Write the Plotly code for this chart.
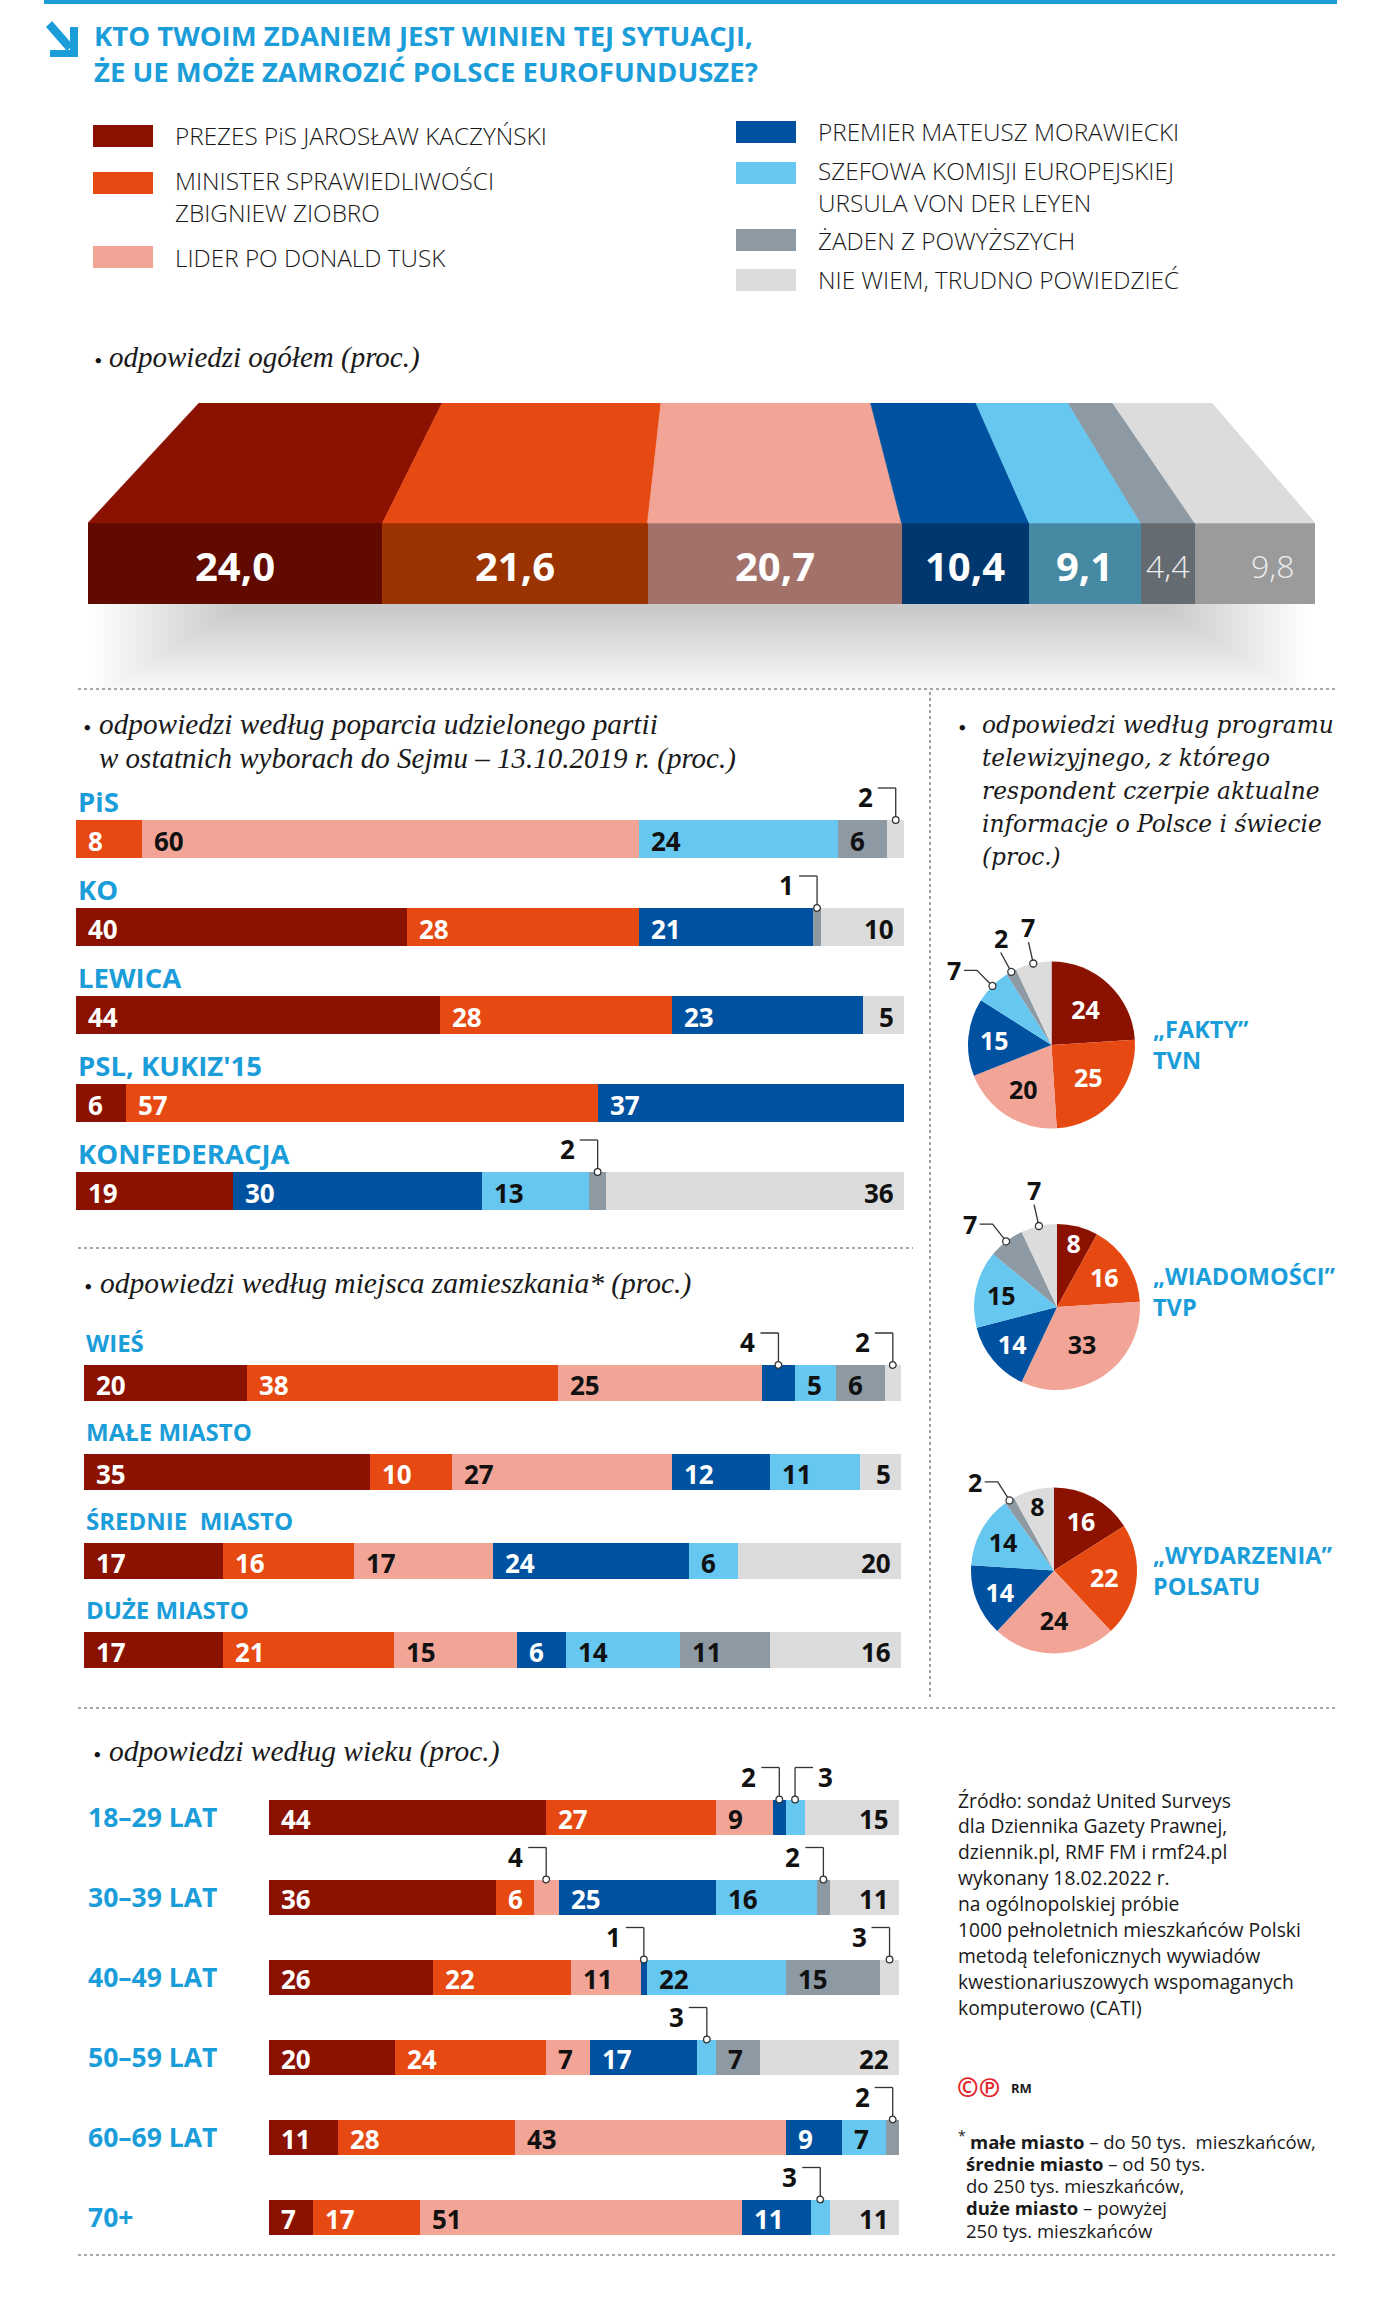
import math
import plotly.graph_objects as go

W, H = 1400, 2308

# ---------------- data ----------------
TITLE_LINES = ["KTO TWOIM ZDANIEM JEST WINIEN TEJ SYTUACJI,",
               "ŻE UE MOŻE ZAMROZIĆ POLSCE EUROFUNDUSZE?"]

SERIES = ["PREZES PiS JAROSŁAW KACZYŃSKI",
          "MINISTER SPRAWIEDLIWOŚCI|ZBIGNIEW ZIOBRO",
          "LIDER PO DONALD TUSK",
          "PREMIER MATEUSZ MORAWIECKI",
          "SZEFOWA KOMISJI EUROPEJSKIEJ|URSULA VON DER LEYEN",
          "ŻADEN Z POWYŻSZYCH",
          "NIE WIEM, TRUDNO POWIEDZIEĆ"]

TOTAL = [24.0, 21.6, 20.7, 10.4, 9.1, 4.4, 9.8]

PARTIES = ["PiS", "KO", "LEWICA", "PSL, KUKIZ'15", "KONFEDERACJA"]
PARTY_KACZYNSKI = [0, 40, 44, 6, 19]
PARTY_ZIOBRO = [8, 28, 28, 57, 0]
PARTY_TUSK = [60, 0, 0, 0, 0]
PARTY_MORAWIECKI = [0, 21, 23, 37, 30]
PARTY_VDL = [24, 0, 0, 0, 13]
PARTY_NONE = [6, 1, 0, 0, 2]
PARTY_DK = [2, 10, 5, 0, 36]

PLACES = ["WIEŚ", "MAŁE MIASTO", "ŚREDNIE  MIASTO", "DUŻE MIASTO"]
PLACE_KACZYNSKI = [20, 35, 17, 17]
PLACE_ZIOBRO = [38, 10, 16, 21]
PLACE_TUSK = [25, 27, 17, 15]
PLACE_MORAWIECKI = [4, 12, 24, 6]
PLACE_VDL = [5, 11, 6, 14]
PLACE_NONE = [6, 0, 0, 11]
PLACE_DK = [2, 5, 20, 16]

AGES = ["18–29 LAT", "30–39 LAT", "40–49 LAT", "50–59 LAT", "60–69 LAT", "70+"]
AGE_KACZYNSKI = [44, 36, 26, 20, 11, 7]
AGE_ZIOBRO = [27, 6, 22, 24, 28, 17]
AGE_TUSK = [9, 4, 11, 7, 43, 51]
AGE_MORAWIECKI = [2, 25, 1, 17, 9, 11]
AGE_VDL = [3, 16, 22, 3, 7, 3]
AGE_NONE = [0, 2, 15, 7, 2, 0]
AGE_DK = [15, 11, 3, 22, 0, 11]

TV_PROGRAMS = ["„FAKTY”|TVN", "„WIADOMOŚCI”|TVP", "„WYDARZENIA”|POLSATU"]
TV_FAKTY = [24, 25, 20, 15, 7, 2, 7]
TV_WIADOMOSCI = [8, 16, 33, 14, 15, 7, 7]
TV_WYDARZENIA = [16, 22, 24, 14, 14, 2, 8]

SOURCE_LINES = ["Źródło: sondaż United Surveys",
                "dla Dziennika Gazety Prawnej,",
                "dziennik.pl, RMF FM i rmf24.pl",
                "wykonany 18.02.2022 r.",
                "na ogólnopolskiej próbie",
                "1000 pełnoletnich mieszkańców Polski",
                "metodą telefonicznych wywiadów",
                "kwestionariuszowych wspomaganych",
                "komputerowo (CATI)"]
FOOTNOTE_LINES = ["<b>małe miasto</b> – do 50 tys.  mieszkańców,",
                  "<b>średnie miasto</b> – od 50 tys.",
                  "do 250 tys. mieszkańców,",
                  "<b>duże miasto</b> – powyżej",
                  "250 tys. mieszkańców"]

# ---------------- style ----------------
COLORS = ["#8b1200", "#e64a12", "#f2a496", "#0052a0", "#66c7f0", "#8d9aa3", "#dcdcdc"]
FRONT_COLORS = ["#600a00", "#9b3300", "#a2726a", "#00376e", "#4689a2", "#646c72", "#9b9b9b"]
ON_COLORS = ["white", "white", "#111111", "white", "#111111", "#111111", "#111111"]
BLUE = "#1b9dd9"
LINE = "#333333"
SANS = "Open Sans, Noto Sans, Lato, DejaVu Sans, sans-serif"
SERIF = "Liberation Serif, DejaVu Serif, serif"
SERIF2 = "DejaVu Serif, Liberation Serif, serif"

fig = go.Figure()
shapes = []
ann = []
layout_axes = {}


def fx(x):
    return x / W


def fy(y):
    return 1 - y / H


def text(x, y, t, size, color="#1a1a1a", family=SANS, weight=None, style=None,
         xanchor="left", yanchor="middle"):
    f = dict(family=family, size=size, color=color)
    if weight is not None:
        f["weight"] = weight
    if style is not None:
        f["style"] = style
    ann.append(dict(x=fx(x), y=fy(y), xref="paper", yref="paper", text=t, showarrow=False,
                    font=f, xanchor=xanchor, yanchor=yanchor, borderpad=0, align="left"))


def rect(x0, y0, x1, y1, color, layer="above", opacity=1.0):
    shapes.append(dict(type="rect", xref="paper", yref="paper", x0=fx(x0), x1=fx(x1),
                       y0=fy(y1), y1=fy(y0), fillcolor=color, line=dict(width=0),
                       layer=layer, opacity=opacity))


def pline(pts, color=LINE, width=1.3):
    path = "M " + " L ".join(f"{fx(x)},{fy(y)}" for x, y in pts)
    shapes.append(dict(type="path", xref="paper", yref="paper", path=path,
                       line=dict(color=color, width=width)))


def dotted(x0, y0, x1, y1):
    shapes.append(dict(type="line", xref="paper", yref="paper", x0=fx(x0), x1=fx(x1),
                       y0=fy(y0), y1=fy(y1), line=dict(color="#8a8a8a", width=1.6, dash="dot")))


def pcircle(x, y, r=3.5):
    shapes.append(dict(type="circle", xref="paper", yref="paper", x0=fx(x - r), x1=fx(x + r),
                       y0=fy(y + r), y1=fy(y - r), fillcolor="white",
                       line=dict(color=LINE, width=1.3)))


def refs(idx):
    return ("x", "y") if idx == 1 else (f"x{idx}", f"y{idx}")


def axes(idx, x0, x1, top, bot, xr, yr):
    k = "" if idx == 1 else str(idx)
    a, b = refs(idx)
    layout_axes[f"xaxis{k}"] = dict(domain=[fx(x0), fx(x1)], range=xr, visible=False,
                                    fixedrange=True, anchor=b)
    layout_axes[f"yaxis{k}"] = dict(domain=[fy(bot), fy(top)], range=yr, visible=False,
                                    fixedrange=True, anchor=a)


# ---------------- header ----------------
rect(44, 0, 1337, 4, BLUE)
shapes.append(dict(type="path", xref="paper", yref="paper",
                   path="M {},{} L {},{} L {},{} L {},{} Z".format(fx(46), fy(27), fx(52), fy(21), fx(73), fy(45), fx(67), fy(51)),
                   fillcolor=BLUE, line=dict(width=0)))
shapes.append(dict(type="path", xref="paper", yref="paper",
                   path="M {},{} L {},{} L {},{} L {},{} L {},{} L {},{} Z".format(
                       fx(70), fy(27), fx(78), fy(27), fx(78), fy(57), fx(50), fy(57), fx(50), fy(50), fx(70), fy(50)),
                   fillcolor=BLUE, line=dict(width=0)))
text(93, 53, "<br>".join(TITLE_LINES), 27.5, BLUE, SANS, weight="bold")

# legend
LEG_X = [93, 93, 93, 736, 736, 736, 736]
LEG_Y = [136, 183, 257, 132, 173, 240, 280]
for s, name in enumerate(SERIES):
    rect(LEG_X[s], LEG_Y[s] - 11, LEG_X[s] + 60, LEG_Y[s] + 11, COLORS[s])
    parts = name.split("|")
    yc = LEG_Y[s] + 13.5 * (len(parts) - 1)
    text(LEG_X[s] + 81, yc, "<br>".join(parts), 24.3, "#1a1a1a", SANS, weight=300)

# ---------------- overall 3D bar ----------------
FRONT_H, TOP_H = 81, 120
TOP_X0, TOP_SCALE = 9.05, 0.8255
axes(1, 88, 1315, 403, 604, [0, 100], [0, FRONT_H + TOP_H])
text(98, 359, "●", 11, "#111111", SANS, xanchor="center")
text(108, 357, "odpowiedzi ogółem (proc.)", 29, "#1a1a1a", SERIF, style="italic")

# soft shadow below the bar
for k in range(18):
    shapes.append(dict(type="rect", xref="paper", yref="paper",
                       x0=fx(95 + k * 8), x1=fx(1305 - k * 8), y0=fy(604 + 92 - k * 5), y1=fy(604),
                       fillcolor="#000000", opacity=0.013, line=dict(width=0), layer="below"))

cum = 0.0
for s, v in enumerate(TOTAL):
    fig.add_trace(go.Bar(x=[v], y=[FRONT_H / 2], width=[FRONT_H], orientation="h",
                         marker=dict(color=FRONT_COLORS[s], line=dict(width=0)),
                         xaxis="x", yaxis="y", hoverinfo="skip", showlegend=False))
    c0, c1 = cum, cum + v
    fig.add_trace(go.Scatter(x=[c0, c1, TOP_X0 + c1 * TOP_SCALE, TOP_X0 + c0 * TOP_SCALE, c0],
                             y=[FRONT_H, FRONT_H, FRONT_H + TOP_H, FRONT_H + TOP_H, FRONT_H],
                             fill="toself", fillcolor=COLORS[s], mode="lines",
                             line=dict(width=0.6, color=COLORS[s]),
                             xaxis="x", yaxis="y", hoverinfo="skip", showlegend=False))
    lbl = f"{v:.1f}".replace(".", ",")
    big = s < 5
    ann.append(dict(x=c0 + v / 2, y=FRONT_H / 2, xref="x", yref="y", text=lbl, showarrow=False,
                    xanchor="center", yanchor="middle", yshift=-2,
                    xshift=(0 if s < 6 else 18),
                    font=dict(family=SANS, size=(40 if big else 32),
                              color=("white" if big else "#eeeeee"),
                              weight=("bold" if big else 300))))
    cum = c1


# ---------------- stacked bar sections ----------------
def callout(xr, yr, X, i, bw, barpx, v, side):
    ya = i - bw / 2
    L, HL = 32, 18
    sgn = -1 if side == "left" else 1
    ln = dict(color=LINE, width=1.3)
    shapes.append(dict(type="line", xref=xr, yref=yr, x0=X, x1=X, ysizemode="pixel",
                       yanchor=ya, y0=0, y1=L, line=ln))
    shapes.append(dict(type="line", xref=xr, yref=yr, xsizemode="pixel", xanchor=X, x0=0,
                       x1=sgn * HL, ysizemode="pixel", yanchor=ya, y0=L, y1=L, line=ln))
    shapes.append(dict(type="circle", xref=xr, yref=yr, xsizemode="pixel", xanchor=X,
                       x0=-3.3, x1=3.3, ysizemode="pixel", yanchor=ya, y0=-3.3, y1=3.3,
                       fillcolor="white", line=ln))
    ann.append(dict(x=X, y=i, xref=xr, yref=yr, text=str(v), showarrow=False,
                    xanchor=("right" if side == "left" else "left"), yanchor="middle",
                    xshift=sgn * (HL + 3), yshift=barpx / 2 + 23,
                    font=dict(family=SANS, size=26, color="#111111", weight="bold")))


def bar_section(idx, cats, series, x0px, x1px, c0, sp, barpx, lab_size, lab_dy=None, lab_x=None):
    n = len(cats)
    axes(idx, x0px, x1px, c0 - sp, c0 + (n - 0.5) * sp, [0, 100], [n - 0.5, -1.0])
    bw = barpx / sp
    xr, yr = refs(idx)
    for s in range(7):
        fig.add_trace(go.Bar(x=series[s], y=list(range(n)), orientation="h", width=bw,
                             marker=dict(color=COLORS[s], line=dict(width=0)),
                             xaxis=xr, yaxis=yr, hoverinfo="skip", showlegend=False))
    for i, cat in enumerate(cats):
        if lab_x is None:
            ann.append(dict(x=0, y=i, xref=xr, yref=yr, text=cat, showarrow=False,
                            xanchor="left", yanchor="middle", yshift=lab_dy,
                            font=dict(family=SANS, size=lab_size, color=BLUE, weight="bold")))
        else:
            ann.append(dict(x=fx(lab_x), y=i, xref="paper", yref=yr, text=cat, showarrow=False,
                            xanchor="left", yanchor="middle",
                            font=dict(family=SANS, size=lab_size, color=BLUE, weight="bold")))
        cum = 0
        prev = False
        for s in range(7):
            v = series[s][i]
            if v == 0:
                continue
            if v <= 4:
                callout(xr, yr, cum + v / 2, i, bw, barpx, v, "right" if prev else "left")
                prev = True
            else:
                if s == 6:
                    ann.append(dict(x=cum + v, y=i, xref=xr, yref=yr, text=str(v), showarrow=False,
                                    xanchor="right", yanchor="middle", xshift=-8, yshift=-2,
                                    font=dict(family=SANS, size=26, color=ON_COLORS[s], weight="bold")))
                else:
                    ann.append(dict(x=cum, y=i, xref=xr, yref=yr, text=str(v), showarrow=False,
                                    xanchor="left", yanchor="middle", xshift=10, yshift=-2,
                                    font=dict(family=SANS, size=26, color=ON_COLORS[s], weight="bold")))
                prev = False
            cum += v


# party
text(87, 726, "●", 11, "#111111", SANS, xanchor="center")
text(98, 724, "odpowiedzi według poparcia udzielonego partii", 29.3, "#1a1a1a", SERIF, style="italic")
text(98, 758, "w ostatnich wyborach do Sejmu – 13.10.2019 r. (proc.)", 29, "#1a1a1a", SERIF, style="italic")
bar_section(2, PARTIES,
            [PARTY_KACZYNSKI, PARTY_ZIOBRO, PARTY_TUSK, PARTY_MORAWIECKI, PARTY_VDL, PARTY_NONE, PARTY_DK],
            76, 904, 839, 88, 38, 27.5, lab_dy=38)

# place
text(88, 1285, "●", 11, "#111111", SANS, xanchor="center")
text(99, 1283, "odpowiedzi według miejsca zamieszkania* (proc.)", 29.5, "#1a1a1a", SERIF, style="italic")
bar_section(3, PLACES,
            [PLACE_KACZYNSKI, PLACE_ZIOBRO, PLACE_TUSK, PLACE_MORAWIECKI, PLACE_VDL, PLACE_NONE, PLACE_DK],
            84, 901, 1383, 89, 36, 24, lab_dy=41)

# age
text(97, 1753, "●", 11, "#111111", SANS, xanchor="center")
text(108, 1751, "odpowiedzi według wieku (proc.)", 29.5, "#1a1a1a", SERIF, style="italic")
bar_section(4, AGES,
            [AGE_KACZYNSKI, AGE_ZIOBRO, AGE_TUSK, AGE_MORAWIECKI, AGE_VDL, AGE_NONE, AGE_DK],
            269, 899, 1817, 80, 35, 26.5, lab_x=86)

# ---------------- pies ----------------
PIE_SUB = ["odpowiedzi według programu", "telewizyjnego, z którego",
           "respondent czerpie aktualne", "informacje o Polsce i świecie", "(proc.)"]
text(962, 726, "●", 11, "#111111", SANS, xanchor="center")
for k, t in enumerate(PIE_SUB):
    text(981, 724 + 33.2 * k, t, 23.3, "#1a1a1a", SERIF2, style="italic")

PIE_GEOM = [(1051.5, 1045, 83.5), (1057, 1307, 83), (1054, 1570.5, 83)]
PIE_NAME_Y = [1044, 1291, 1570]
for p, vals in enumerate([TV_FAKTY, TV_WIADOMOSCI, TV_WYDARZENIA]):
    cx, cy, r = PIE_GEOM[p]
    fig.add_trace(go.Pie(values=vals, labels=[s.replace("|", " ") for s in SERIES],
                         marker=dict(colors=COLORS, line=dict(width=0)),
                         sort=False, direction="clockwise", rotation=0,
                         text=[str(v) if v >= 8 else "" for v in vals], textinfo="text",
                         textposition="inside", insidetextorientation="horizontal",
                         textfont=dict(family=SANS, size=25, color=ON_COLORS, weight="bold"),
                         domain=dict(x=[fx(cx - r), fx(cx + r)], y=[fy(cy + r), fy(cy - r)]),
                         hoverinfo="skip", showlegend=False))
    text(1152, PIE_NAME_Y[p], "<br>".join(TV_PROGRAMS[p].split("|")), 23.5, BLUE, SANS, weight="bold")
    cum = 0
    for s, v in enumerate(vals):
        if 0 < v < 8:
            th = 2 * math.pi * (cum + v / 2) / 100
            dx, dy = math.sin(th), -math.cos(th)
            rx, ry = cx + r * dx, cy + r * dy
            ex, ey = rx + 22 * dx, ry + 22 * dy
            if abs(dx) > 0.5:
                pline([(rx, ry), (ex, ey), (ex - 13, ey)])
                text(ex - 15, ey, str(v), 25, "#111111", SANS, weight="bold", xanchor="right")
            else:
                pline([(rx, ry), (ex, ey)])
                text(ex, ey - 15, str(v), 25, "#111111", SANS, weight="bold", xanchor="center")
            pcircle(rx, ry)
        cum += v

# ---------------- separators ----------------
dotted(78, 689, 1337, 689)
dotted(930, 692, 930, 1700)
dotted(78, 1248, 913, 1248)
dotted(78, 1708, 1337, 1708)
dotted(78, 2255, 1337, 2255)

# ---------------- source & footnote ----------------
for k, t in enumerate(SOURCE_LINES):
    text(957, 1800 + 25.9 * k, t, 19.3, "#1a1a1a", SANS)
text(956, 2087, "<b>©℗</b>", 26, "#e3262b", SANS)
text(1010, 2088, "RM", 13, "#1a1a1a", SANS, weight="bold")
text(957, 2135, "*", 14, "#1a1a1a", SANS)
for k, t in enumerate(FOOTNOTE_LINES):
    text(969 if k == 0 else 965, 2141 + 22.3 * k, t, 18.5, "#1a1a1a", SANS)

fig.update_layout(width=W, height=H, margin=dict(l=0, r=0, t=0, b=0),
                  paper_bgcolor="white", plot_bgcolor="rgba(0,0,0,0)",
                  barmode="stack", showlegend=False,
                  uniformtext=dict(minsize=24, mode="show"),
                  shapes=shapes, annotations=ann, **layout_axes)
fig.write_html("out.html")
